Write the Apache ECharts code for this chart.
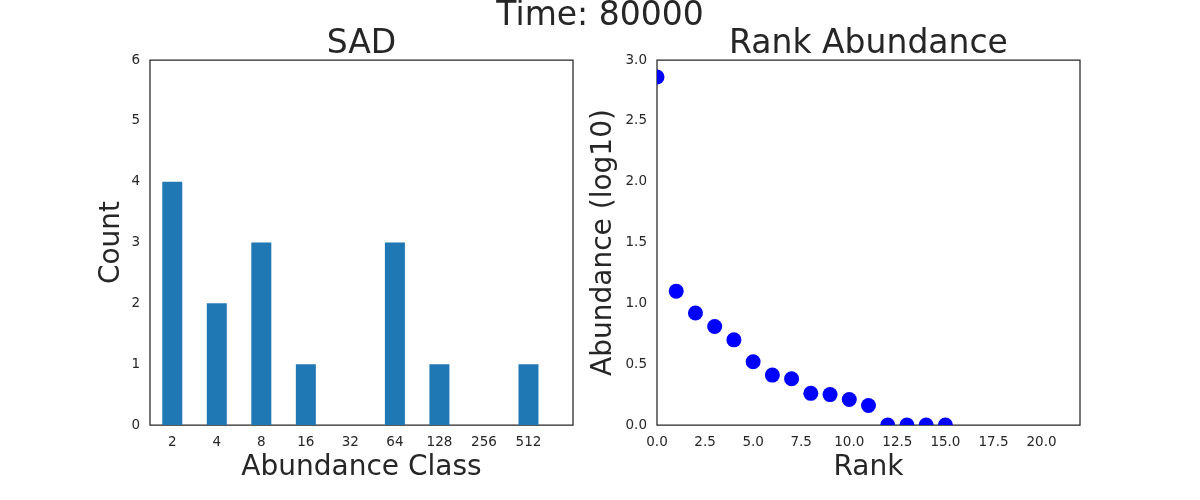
<!DOCTYPE html>
<html>
<head>
<meta charset="utf-8">
<script src="https://cdn.jsdelivr.net/npm/echarts@6/dist/echarts.min.js"></script>
<style>
  html, body { margin: 0; padding: 0; background: #fff; }
  #main { width: 1200px; height: 500px; }
</style>
</head>
<body>
<div id="main"></div>
<script>
// data
var sadClasses = ['2', '4', '8', '16', '32', '64', '128', '256', '512'];
var sadCounts = [4, 2, 3, 1, 0, 3, 1, 0, 1];
var rankValues = [2.86, 1.10, 0.92, 0.81, 0.70, 0.52, 0.41, 0.38, 0.26, 0.25, 0.21, 0.16, 0, 0, 0, 0];
var rankTicks = [0, 2.5, 5, 7.5, 10, 12.5, 15, 17.5, 20];

var FONT = 'DejaVu Sans';
var TXT = '#262626';
var chart = echarts.init(document.getElementById('main'));

var tickLabel = { fontFamily: FONT, fontSize: 13.5, color: TXT };
var axisName = { fontFamily: FONT, fontSize: 28, color: TXT };
var titleText = { fontFamily: FONT, fontSize: 33, fontWeight: 'normal', color: TXT };

option = {
    animation: false,
    title: [
        { text: 'Time: 80000', left: 'center', top: 0, padding: 0, textStyle: titleText },
        { text: 'SAD', left: 361.5, textAlign: 'center', top: 28, padding: 0, textStyle: titleText },
        { text: 'Rank Abundance', left: 868.5, textAlign: 'center', top: 28, padding: 0, textStyle: titleText }
    ],
    grid: [
        { left: 150, top: 60, width: 423, height: 365, show: true, borderColor: '#262626', borderWidth: 1.25, backgroundColor: 'transparent' },
        { left: 657, top: 60, width: 423, height: 365, show: true, borderColor: '#262626', borderWidth: 1.25, backgroundColor: 'transparent' }
    ],
    xAxis: [
        {
            gridIndex: 0, type: 'value', min: -0.5, max: 9,
            name: 'Abundance Class', nameLocation: 'middle', nameGap: 28, nameTextStyle: axisName,
            axisLine: { show: false }, axisTick: { show: false }, splitLine: { show: false },
            axisLabel: Object.assign({
                margin: 10,
                customValues: sadClasses.map(function (c, i) { return i; }),
                formatter: function (v) { return sadClasses[v]; }
            }, tickLabel)
        },
        {
            gridIndex: 1, type: 'value', min: 0, max: 22,
            name: 'Rank', nameLocation: 'middle', nameGap: 28, nameTextStyle: axisName,
            axisLine: { show: false }, axisTick: { show: false }, splitLine: { show: false },
            axisLabel: Object.assign({
                margin: 10,
                customValues: rankTicks,
                formatter: function (v) { return v.toFixed(1); }
            }, tickLabel)
        }
    ],
    yAxis: [
        {
            gridIndex: 0, type: 'value', min: 0, max: 6, interval: 1,
            name: 'Count', nameLocation: 'middle', nameGap: 24, nameTextStyle: axisName,
            axisLine: { show: false }, axisTick: { show: false }, splitLine: { show: false },
            axisLabel: Object.assign({ margin: 10 }, tickLabel)
        },
        {
            gridIndex: 1, type: 'value', min: 0, max: 3, interval: 0.5,
            name: 'Abundance (log10)', nameLocation: 'middle', nameGap: 39, nameTextStyle: axisName,
            axisLine: { show: false }, axisTick: { show: false }, splitLine: { show: false },
            axisLabel: Object.assign({ margin: 10, formatter: function (v) { return v.toFixed(1); } }, tickLabel)
        }
    ],
    series: [
        {
            type: 'bar', xAxisIndex: 0, yAxisIndex: 0,
            barWidth: 20,
            itemStyle: { color: '#1f77b4', borderWidth: 0 },
            data: sadCounts.map(function (c, i) { return [i, c]; })
        },
        {
            type: 'custom', xAxisIndex: 1, yAxisIndex: 1, clip: true,
            encode: { x: 0, y: 1 },
            renderItem: function (params, api) {
                var p = api.coord([api.value(0), api.value(1)]);
                return { type: 'circle', shape: { cx: p[0], cy: p[1], r: 7.5 }, style: { fill: '#0000ff' } };
            },
            data: rankValues.map(function (v, i) { return [i, v]; })
        }
    ]
};

chart.setOption(option);
</script>
</body>
</html>
